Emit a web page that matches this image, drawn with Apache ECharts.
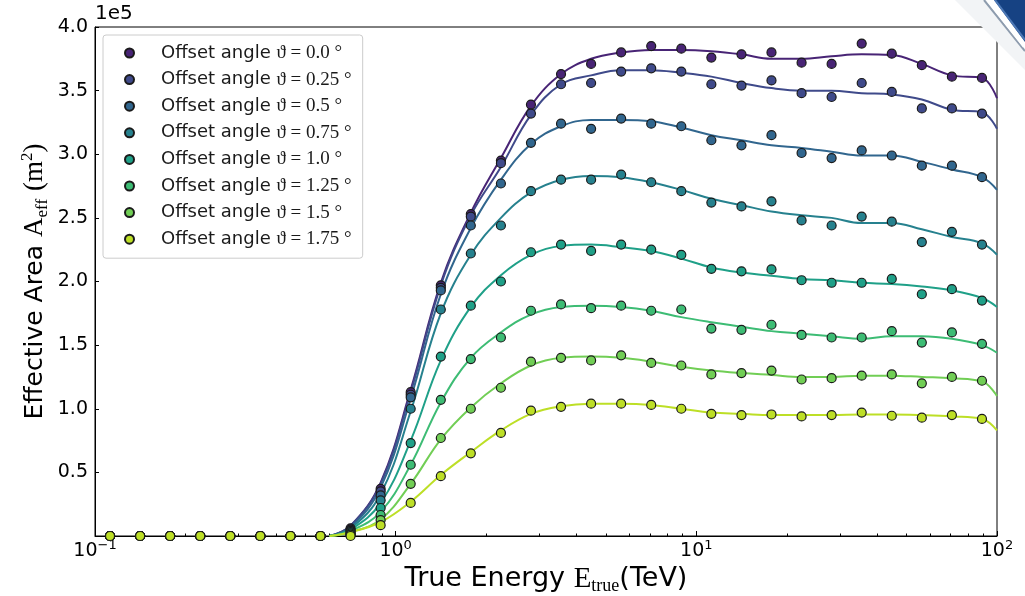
<!DOCTYPE html>
<html>
<head>
<meta charset="utf-8">
<script src="https://cdn.jsdelivr.net/npm/echarts@6/dist/echarts.min.js"></script>
<style>
  html, body { margin: 0; padding: 0; background: #ffffff; }
  #chart { width: 1025px; height: 596px; }
</style>
</head>
<body>
<div id="chart"></div>
<script>
// Offset angles (degrees) of the eight effective-area curves
const offsetAngles = ['0.0', '0.25', '0.5', '0.75', '1.0', '1.25', '1.5', '1.75'];
const colors = ['#482475', '#3f4a8a', '#31668e', '#26818e', '#1fa088', '#3dbc74', '#71ce55', '#bddf26'];

// Energy bin centres (TeV), 10 bins per decade
const binEnergy = [0.1122, 0.1413, 0.1778, 0.2239, 0.2818, 0.3548, 0.4467, 0.5623, 0.7079, 0.8913,
  1.122, 1.413, 1.778, 2.239, 2.818, 3.548, 4.467, 5.623, 7.079, 8.913,
  11.22, 14.13, 17.78, 22.39, 28.18, 35.48, 44.67, 56.23, 70.79, 89.13];

// Effective area per bin, in units of 1e5 m^2
const area00 = [0, 0, 0, 0, 0, 0, 0, 0, 0.06, 0.37, 1.13, 1.97, 2.53, 2.95, 3.39, 3.63, 3.71, 3.80, 3.85, 3.83, 3.76, 3.785, 3.80, 3.72, 3.71, 3.87, 3.79, 3.70, 3.61, 3.60];
const area025 = [0, 0, 0, 0, 0, 0, 0, 0, 0.05, 0.35, 1.11, 1.95, 2.51, 2.93, 3.32, 3.55, 3.56, 3.65, 3.675, 3.65, 3.55, 3.54, 3.58, 3.48, 3.45, 3.56, 3.49, 3.36, 3.36, 3.32];
const area05 = [0, 0, 0, 0, 0, 0, 0, 0, 0.04, 0.32, 1.09, 1.93, 2.44, 2.77, 3.09, 3.24, 3.20, 3.28, 3.24, 3.22, 3.11, 3.07, 3.15, 3.01, 2.97, 3.03, 2.99, 2.91, 2.91, 2.82];
const area075 = [0, 0, 0, 0, 0, 0, 0, 0, 0.03, 0.28, 1.00, 1.78, 2.22, 2.44, 2.71, 2.80, 2.80, 2.84, 2.78, 2.71, 2.62, 2.59, 2.63, 2.48, 2.44, 2.51, 2.47, 2.31, 2.39, 2.29];
const area10 = [0, 0, 0, 0, 0, 0, 0, 0, 0.02, 0.22, 0.73, 1.41, 1.81, 2.00, 2.23, 2.29, 2.24, 2.29, 2.25, 2.21, 2.10, 2.08, 2.095, 2.01, 1.99, 1.99, 2.02, 1.90, 1.94, 1.85];
const area125 = [0, 0, 0, 0, 0, 0, 0, 0, 0.01, 0.165, 0.56, 1.07, 1.39, 1.56, 1.77, 1.82, 1.79, 1.81, 1.77, 1.78, 1.63, 1.62, 1.66, 1.58, 1.56, 1.56, 1.61, 1.52, 1.60, 1.51];
const area15 = [0, 0, 0, 0, 0, 0, 0, 0, 0.01, 0.125, 0.41, 0.77, 1.00, 1.165, 1.37, 1.40, 1.38, 1.42, 1.36, 1.34, 1.27, 1.28, 1.30, 1.23, 1.24, 1.26, 1.27, 1.20, 1.25, 1.22];
const area175 = [0, 0, 0, 0, 0, 0, 0, 0, 0.0, 0.085, 0.26, 0.47, 0.65, 0.81, 0.985, 1.015, 1.04, 1.04, 1.03, 1.00, 0.96, 0.95, 0.955, 0.94, 0.95, 0.97, 0.945, 0.93, 0.95, 0.92];

// Knots of the fitted curves (TeV) and the fitted values (1e5 m^2)
const fitEnergy = [0.603, 0.7079, 0.8913, 1.122, 1.413, 1.778, 2.239, 2.818, 3.548, 4.467, 5.623, 7.079,
  8.913, 11.22, 14.13, 17.78, 22.39, 28.18, 35.48, 44.67, 56.23, 70.79, 89.13, 100];
const fit00 = [0, 0.08, 0.42, 1.15, 1.99, 2.54, 2.97, 3.38, 3.63, 3.75, 3.80, 3.82, 3.82, 3.81, 3.785, 3.75, 3.75, 3.77, 3.785, 3.78, 3.71, 3.62, 3.60, 3.44];
const fit025 = [0, 0.08, 0.41, 1.13, 1.97, 2.52, 2.90, 3.31, 3.55, 3.62, 3.66, 3.66, 3.64, 3.61, 3.56, 3.52, 3.50, 3.50, 3.48, 3.47, 3.43, 3.35, 3.33, 3.20];
const fit05 = [0, 0.07, 0.38, 1.08, 1.90, 2.42, 2.80, 3.08, 3.22, 3.27, 3.27, 3.26, 3.21, 3.15, 3.11, 3.07, 3.05, 3.02, 2.99, 2.99, 2.94, 2.88, 2.82, 2.72];
const fit075 = [0, 0.06, 0.33, 0.98, 1.75, 2.21, 2.50, 2.70, 2.80, 2.83, 2.82, 2.78, 2.72, 2.65, 2.60, 2.55, 2.52, 2.50, 2.46, 2.46, 2.41, 2.35, 2.30, 2.21];
const fit10 = [0, 0.05, 0.26, 0.75, 1.38, 1.80, 2.05, 2.21, 2.28, 2.29, 2.27, 2.24, 2.18, 2.11, 2.07, 2.045, 2.02, 2.01, 1.99, 1.98, 1.96, 1.93, 1.87, 1.80];
const fit125 = [0, 0.04, 0.19, 0.56, 1.05, 1.40, 1.60, 1.74, 1.80, 1.81, 1.80, 1.77, 1.72, 1.68, 1.645, 1.61, 1.59, 1.57, 1.55, 1.57, 1.57, 1.55, 1.50, 1.44];
const fit15 = [0, 0.03, 0.13, 0.41, 0.76, 1.01, 1.20, 1.34, 1.40, 1.41, 1.40, 1.37, 1.33, 1.30, 1.28, 1.265, 1.25, 1.25, 1.26, 1.26, 1.25, 1.24, 1.215, 1.10];
const fit175 = [0, 0.03, 0.11, 0.27, 0.48, 0.66, 0.83, 0.96, 1.02, 1.04, 1.04, 1.03, 1.00, 0.97, 0.96, 0.95, 0.95, 0.95, 0.955, 0.955, 0.95, 0.94, 0.92, 0.83];

// Axis ticks
const xMajorTicks = [0.1, 1, 10, 100];
const xMinorTicks = [0.2, 0.3, 0.4, 0.5, 0.6, 0.7, 0.8, 0.9, 2, 3, 4, 5, 6, 7, 8, 9, 20, 30, 40, 50, 60, 70, 80, 90];

const areaSets = [area00, area025, area05, area075, area10, area125, area15, area175];
const fitSets = [fit00, fit025, fit05, fit075, fit10, fit125, fit15, fit175];
const legendNames = offsetAngles.map(a => 'Offset angle ϑ = ' + a + ' °');

const SANS = "'DejaVu Sans', sans-serif";
const SERIF = "'Liberation Serif', 'DejaVu Serif', serif";

const series = [];
areaSets.forEach((vals, k) => {
  series.push({
    type: 'line',
    name: 'fit ' + offsetAngles[k],
    data: fitEnergy.map((e, j) => [e, fitSets[k][j]]),
    smooth: 0.4,
    symbol: 'none',
    showSymbol: false,
    silent: true,
    lineStyle: { color: colors[k], width: 2 },
    itemStyle: { color: colors[k] },
    z: 2
  });
  series.push({
    type: 'scatter',
    name: legendNames[k],
    data: binEnergy.map((e, j) => [e, vals[j]]),
    symbol: 'circle',
    symbolSize: 9,
    itemStyle: { color: colors[k], borderColor: '#1a1a1a', borderWidth: 1.2, opacity: 1 },
    z: 3
  });
});

const chart = echarts.init(document.getElementById('chart'), null, { renderer: 'canvas' });
chart.setOption({
  animation: false,
  backgroundColor: '#ffffff',
  grid: {
    left: 95, right: 28, top: 27, bottom: 60,
    outerBoundsMode: 'none',
    containLabel: false,
    show: true, borderColor: '#000', borderWidth: 1, backgroundColor: 'transparent'
  },
  xAxis: [{
    type: 'log',
    logBase: 10,
    min: 0.1,
    max: 100,
    name: 'True Energy {m|E}{sub|true}(TeV)',
    nameLocation: 'middle',
    nameMoveOverlap: false,
    nameGap: 27,
    nameTextStyle: {
      fontFamily: SANS, fontSize: 27, color: '#000', lineHeight: 32,
      rich: {
        m: { fontFamily: SERIF, fontSize: 29, color: '#000', lineHeight: 32 },
        sub: { fontFamily: SERIF, fontSize: 18, color: '#000', lineHeight: 24, verticalAlign: 'bottom' }
      }
    },
    axisLine: { show: true, lineStyle: { color: '#000', width: 1 } },
    axisTick: { show: true, inside: true, length: 5, lineStyle: { color: '#000', width: 1 }, customValues: xMajorTicks },
    axisLabel: {
      customValues: xMajorTicks,
      margin: 3,
      color: '#000',
      fontFamily: SANS,
      fontSize: 19,
      formatter: v => '10{s|' + String(Math.round(Math.log10(v))).replace('-', '−') + '}',
      rich: {
        s: { fontFamily: SANS, fontSize: 13, color: '#000', verticalAlign: 'top', lineHeight: 13 }
      },
      lineHeight: 24
    },
    splitLine: { show: false },
    minorTick: { show: false }
  }, {
    type: 'log',
    logBase: 10,
    min: 0.1,
    max: 100,
    position: 'bottom',
    axisLine: { show: false },
    axisLabel: { show: false },
    axisTick: { show: true, inside: true, length: 2.5, lineStyle: { color: '#000', width: 1 }, customValues: xMinorTicks },
    splitLine: { show: false }
  }],
  yAxis: {
    type: 'value',
    min: 0,
    max: 4,
    interval: 0.5,
    name: 'Effective Area {m|A}{sub|eff} {m|(m}{sup|2}{m|)}',
    nameLocation: 'middle',
    nameMoveOverlap: false,
    nameRotate: 90,
    nameGap: 44,
    nameTextStyle: {
      fontFamily: SANS, fontSize: 25, color: '#000', lineHeight: 32,
      rich: {
        m: { fontFamily: SERIF, fontSize: 27, color: '#000', lineHeight: 32 },
        sub: { fontFamily: SERIF, fontSize: 17, color: '#000', lineHeight: 24, verticalAlign: 'bottom' },
        sup: { fontFamily: SERIF, fontSize: 17, color: '#000', lineHeight: 22, verticalAlign: 'top' }
      }
    },
    axisLine: { show: true, lineStyle: { color: '#000', width: 1 } },
    axisTick: { show: true, inside: true, length: 4, lineStyle: { color: '#000', width: 1 } },
    axisLabel: {
      margin: 7,
      color: '#000',
      fontFamily: SANS,
      fontSize: 19,
      formatter: v => (v === 0 ? '' : v.toFixed(1))
    },
    splitLine: { show: false }
  },
  legend: {
    data: legendNames,
    orient: 'vertical',
    left: 103,
    top: 35,
    padding: [8, 11, 9, 21],
    itemWidth: 9,
    itemHeight: 9,
    itemGap: 6.6,
    selectedMode: false,
    backgroundColor: 'rgba(255,255,255,0.85)',
    borderColor: '#cccccc',
    borderWidth: 1,
    borderRadius: 3,
    formatter: name => name.replace('Offset angle ', 'Offset angle {m|') + '}',
    textStyle: {
      fontFamily: SANS,
      fontSize: 18,
      color: '#1a1a1a',
      lineHeight: 20,
      padding: [0, 0, 0, 22],
      rich: {
        m: { fontFamily: SERIF, fontSize: 19, color: '#1a1a1a', lineHeight: 20 }
      }
    }
  },
  graphic: [
    { type: 'text', left: 95, top: 4, style: { text: '1e5', fontFamily: SANS, fontSize: 20, fill: '#000' } },
    // slide corner ornament
    { type: 'polygon', shape: { points: [[955, 0], [986, 0], [1025, 50], [1025, 70]] }, style: { fill: '#f2f4f6' }, z: 100 },
    { type: 'line', shape: { x1: 984, y1: 0, x2: 1025, y2: 51 }, style: { stroke: '#8e9cae', lineWidth: 2 }, z: 101 },
    { type: 'line', shape: { x1: 989, y1: 0, x2: 1025, y2: 46 }, style: { stroke: '#ffffff', lineWidth: 5 }, z: 101 },
    { type: 'polygon', shape: { points: [[994, 0], [1025, 0], [1025, 42]] }, style: { fill: '#164283' }, z: 102 },
    { type: 'line', shape: { x1: 995, y1: 0, x2: 1025, y2: 40 }, style: { stroke: '#4d78b5', lineWidth: 2 }, z: 103 }
  ],
  series: series
});
</script>
</body>
</html>
